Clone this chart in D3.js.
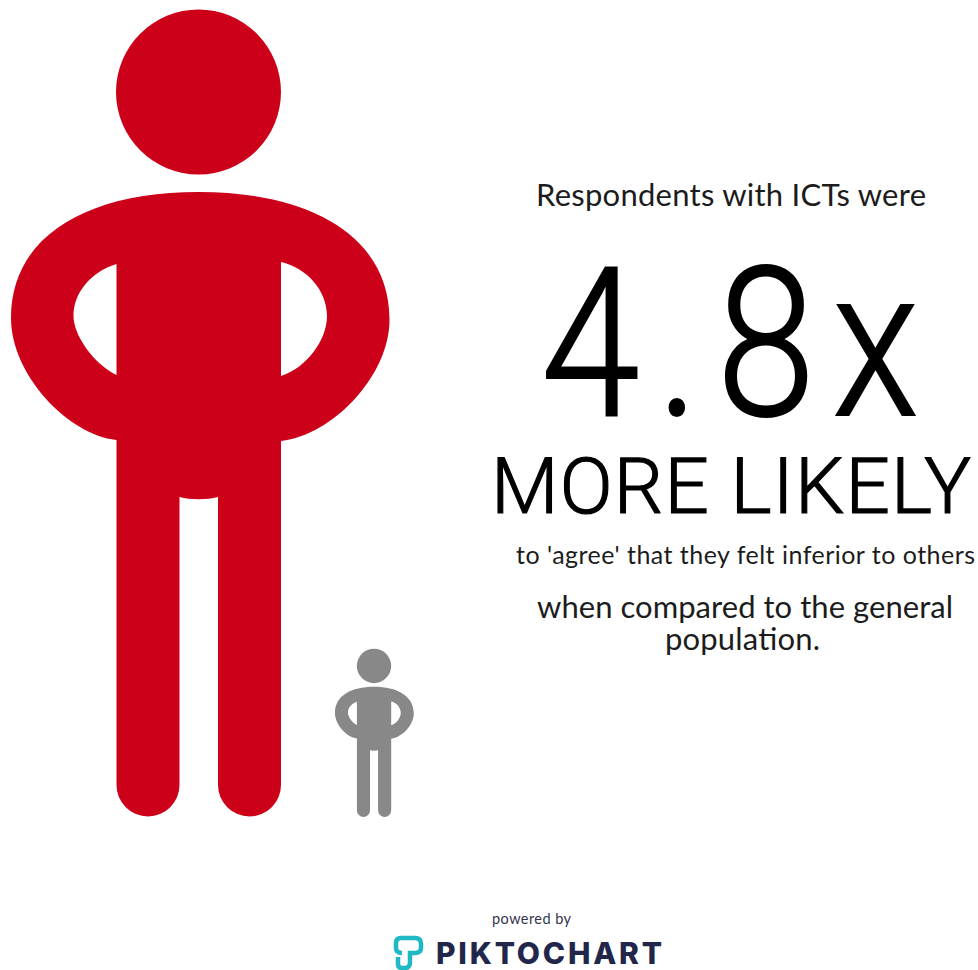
<!DOCTYPE html>
<html>
<head>
<meta charset="utf-8">
<script src="https://cdn.jsdelivr.net/npm/d3@7/dist/d3.min.js"></script>
<style>
html,body{margin:0;padding:0;background:#fff;}
svg{display:block;}
</style>
</head>
<body>
<svg id="chart" width="978" height="970"></svg>
<script>
// Likelihood of agreeing, relative to the general population
const groups = ["Respondents with ICTs", "General population"];
const ratios = [4.8, 1];
const groupColours = ["#cd0019", "#888888"];
const leadText = "Respondents with ICTs were";
const ratioText = "4.8x";
const headlineText = "MORE LIKELY";
const detailText = "to 'agree' that they felt inferior to others";
const closingText = ["when compared to the general", "population."];
const creditText = "powered by";
const brandText = "PIKTOCHART";

const svg = d3.select("#chart");

// Figure height is proportional to the ratio; both figures stand on one ground line
const groundY = 817;
const heightScale = d3.scaleLinear().domain([0, 4.8]).range([0, 807]);
const figureCentre = d3.scaleOrdinal().domain(groups).range([198.5, 374]);

// One figure outline on a 807-unit-tall grid, origin at the crown, x centred
function drawFigure(p, u) {
  const x = v => v * u.k + u.cx;
  const y = v => v * u.k + u.top;
  const c = (a, b, d, e, f, g) => p.bezierCurveTo(x(a), y(b), x(d), y(e), x(f), y(g));

  // head
  p.moveTo(x(82.5), y(82));
  p.arc(x(0), y(82), 82.5 * u.k, 0, Math.PI * 2);
  p.closePath();

  // torso and arms, clockwise from the neck
  p.moveTo(x(0), y(182));
  c(110, 182, 191, 225, 191, 310);
  c(191, 365, 135, 425, 82.5, 431);
  p.lineTo(x(82.5), y(775));
  p.arc(x(51), y(775), 31.5 * u.k, 0, Math.PI);
  p.lineTo(x(19.5), y(487));
  c(8, 490, -8, 490, -19, 487);
  p.lineTo(x(-19), y(775));
  p.arc(x(-50.5), y(775), 31.5 * u.k, 0, Math.PI);
  p.lineTo(x(-82), y(430));
  c(-130, 425, -187.5, 365, -187.5, 308);
  c(-187.5, 225, -110, 182, 0, 182);
  p.closePath();

  // gap inside the left arm
  p.moveTo(x(-82), y(254));
  c(-108, 262, -125, 283, -125, 306);
  c(-125, 325, -105, 354, -82, 365);
  p.closePath();

  // gap inside the right arm
  p.moveTo(x(82.5), y(252));
  c(108, 258, 128.5, 280, 128.5, 306);
  c(128.5, 330, 108, 358, 82.5, 366);
  p.closePath();
}

svg.append("g").selectAll("path")
  .data(groups)
  .join("path")
  .attr("fill", (d, i) => groupColours[i])
  .attr("fill-rule", "evenodd")
  .attr("d", (d, i) => {
    const h = heightScale(ratios[i]);
    const p = d3.path();
    drawFigure(p, { k: h / 807, cx: figureCentre(d), top: groundY - h });
    return p.toString();
  });

// Right-hand statement
const lato = "'Lato'";
const din = "'Roboto'";
function label(text, x, y, size, family, weight, length, fill) {
  return svg.append("text")
    .attr("x", x).attr("y", y)
    .attr("font-family", family)
    .attr("font-size", size)
    .attr("font-weight", weight)
    .attr("fill", fill || "#1c1c1c")
    .attr("textLength", length)
    .attr("lengthAdjust", "spacing")
    .text(text);
}
label(leadText, 536, 206, 31, lato, 400, 390);

// The big ratio is condensed a little so its glyphs sit further apart
const ratioSqueeze = 0.86;
label(ratioText, 0, 0, 207, din, 300, 378 / ratioSqueeze, "#000")
  .attr("stroke", "#000").attr("stroke-width", 2)
  .attr("transform", `translate(541,415) scale(${ratioSqueeze},1)`);

label(headlineText, 491, 513, 78, din, 300, 480, "#000")
  .attr("stroke", "#000").attr("stroke-width", 1.2);
label(detailText, 516, 564, 25, lato, 400, 459);
label(closingText[0], 537, 618, 31, lato, 400, 416);
label(closingText[1], 665, 650, 31, lato, 400, 155);

// Footer credit
label(creditText, 492, 924, 14.5, lato, 400, 79, "#33354f");
label(brandText, 436, 964, 30, "'Inter'", 800, 226, "#22264a");

// Brand mark
const mark = d3.path();
mark.moveTo(402, 953);
mark.quadraticCurveTo(396, 953, 396, 948);
mark.lineTo(396, 943);
mark.quadraticCurveTo(396, 938, 401, 938);
mark.lineTo(415, 938);
mark.quadraticCurveTo(421, 938, 421, 944);
mark.lineTo(421, 948);
mark.quadraticCurveTo(421, 953, 415, 953);
mark.lineTo(410, 953);
mark.lineTo(410, 962);
mark.quadraticCurveTo(410, 968, 405, 968);
mark.lineTo(402, 968);
mark.quadraticCurveTo(398, 968, 398, 964);
mark.lineTo(398, 957);
svg.append("path")
  .attr("d", mark.toString())
  .attr("fill", "none")
  .attr("stroke", "#1fb9c6")
  .attr("stroke-width", 4.5);
</script>
</body>
</html>
